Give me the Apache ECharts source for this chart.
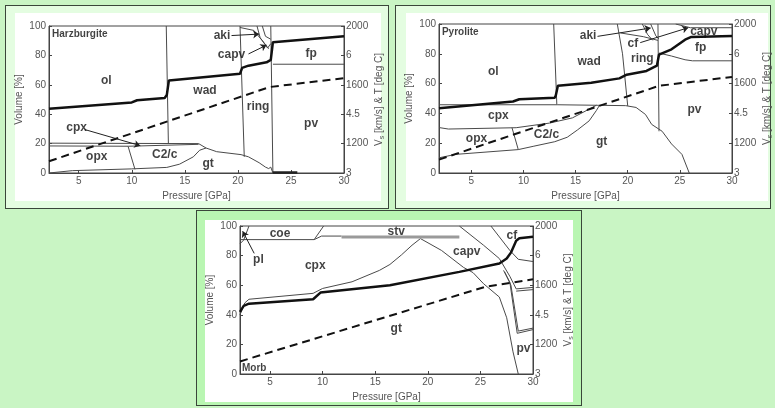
<!DOCTYPE html>
<html>
<head>
<meta charset="utf-8">
<script src="https://cdn.jsdelivr.net/npm/echarts@6/dist/echarts.min.js"></script>
<style>
  html, body { margin: 0; padding: 0; background: #c9f5c4; }
  .frame { position: absolute; border: 1.5px solid #3a463a; box-sizing: border-box; }
  .paper { position: absolute; background: #fff; }
  #main { position: absolute; left: 0; top: 0; width: 775px; height: 408px; }
</style>
</head>
<body>
<div class="frame" style="left:5px;top:5px;width:384px;height:204px;background:#e4fde1"></div>
<div class="paper" style="left:15px;top:13px;width:366px;height:188px"></div>
<div class="frame" style="left:395px;top:5px;width:376px;height:204px;background:#e4fde1"></div>
<div class="paper" style="left:406px;top:13px;width:362px;height:188px"></div>
<div class="frame" style="left:196px;top:210px;width:386px;height:196px;background:#b9f6b2"></div>
<div class="paper" style="left:205px;top:220px;width:368px;height:182px"></div>
<div id="main"></div>
<script>
// right axis: Vs [km/s] and T [deg C] share one scale
var rightTicks = ['3', '1200', '4.5', '1600', '6', '2000'];

// ---- Harzburgite ----
var harzVs = [[2.2,43.7],[10,48],[10.5,49.5],[13.1,51],[13.3,53],[13.5,63],[20.2,67.5],[20.4,71.5],[21,73],[22.7,75.3],[23.1,77],[23.3,89],[30,93]];
var harzT = [[2.2,8],[23,58.5],[30,64.5]];
var harzOlWad = [[13.25,100],[13.45,20]];
var harzWadRing = [[20.2,100],[20.6,11]];
var harzRingPv = [[23.1,100],[23.3,0]];
var harzFpPv = [[23.3,74],[30,74]];
var harzCpxTop = [[2.2,20.3],[16.3,20],[17,17],[18,14.5],[20.3,12.5],[21,11],[22,7],[22.6,4],[22.9,3],[23.1,4],[23.3,0]];
var harzCpxBot = [[2.2,18.4],[9.7,18.2],[16.3,19.5]];
var harzOpxC2c = [[9.65,18.2],[10.3,2.5]];
var harzGtTop = [[2.2,0],[4.4,1.6],[10,2.8],[13.3,3.8],[14.5,6],[15.8,11],[16.4,15.5],[17,17]];
var harzAki1 = [[20.2,99],[21.5,97],[22.3,90],[22.8,85],[23.1,88]];
var harzAki2 = [[21.8,100],[22.1,92],[22.9,84.5]];
var harzAki3 = [[22.3,100],[22.6,93],[23.1,91]];
var harzGtTail = [[23.3,0.4],[25.6,0.4]];
var harzArrows = [[[5.6,29.5],[10.8,18.6]], [[19.4,93.5],[22.0,94.5]], [[21.0,81],[22.7,87]]];
var harzLabels = [['ol',7.6,63],['wad',16.9,56.3],['ring',21.9,45],['pv',26.9,33.7],['fp',26.9,81.2],['opx',6.7,11],['C2/c',13.1,12.2],['gt',17.2,6.6],['cpx',4.8,30.5],['aki',18.5,93.5],['capv',19.4,80.2]];
var harzName = ['Harzburgite',5.1,94.5];

// ---- Pyrolite ----
var pyroVs = [[1.9,43.5],[9,48],[9.6,49.5],[13,50.5],[13.1,52],[13.3,58.5],[16.5,60.5],[19.2,63.5],[19.9,66],[21.8,68.5],[22.8,72],[23.0,79.5],[24.2,83],[25.5,89.5],[26.1,91.3],[30,92]];
var pyroT = [[1.9,9],[23,58.5],[30,64.5]];
var pyroOlWad = [[12.9,100],[13.2,46]];
var pyroWadRing = [[19.0,100],[19.5,80],[20.0,45]];
var pyroRingPv = [[22.9,100],[23.0,28]];
var pyroFpPv = [[23,80.5],[24.2,78.5],[25.5,76],[26.2,75.3],[30,75.3]];
var pyroCpxTop = [[1.9,45.8],[13.3,45.8],[19.8,45.2],[20.8,44],[21.7,39.3],[22.3,32.6],[23.3,28],[24.2,19.5],[25.2,12.5],[25.9,0]];
var pyroCpxBot = [[1.9,30.5],[2.8,29.5],[9.3,30.4],[12.5,33.5],[14.7,37],[16.2,42.5],[17,45.5]];
var pyroGtTop = [[1.9,10.2],[3.5,12.5],[9.5,15.7],[11,18],[13,21],[14.2,24],[15.2,29],[16.3,35],[17,42],[17.3,45.5]];
var pyroOpxC2c = [[8.9,30.4],[9.5,15.8]];
var pyroCapv = [[24.6,100],[26,97.5],[30,97.5]];
var pyroAki1 = [[21.4,100],[21.9,93],[22.4,89]];
var pyroAki2 = [[22.2,100],[22.7,92],[23,90]];
var pyroCf = [[19.3,94],[21.5,91.5],[22.9,89]];
var pyroArrows = [[[17.1,91.7],[22.2,97.3]], [[21.2,87.5],[25.8,97.5]]];
var pyroLabels = [['ol',7.1,68],['wad',16.3,75],['ring',21.4,76.5],['fp',27,84],['pv',26.4,42.5],['cpx',7.6,38.5],['opx',5.5,23],['C2/c',12.2,26],['gt',17.5,21],['aki',16.2,92],['cf',20.5,87],['capv',27.3,95]];
var pyroName = ['Pyrolite',3.94,94.2];

// ---- Morb ----
var morbVs = [[2.15,42],[2.5,46],[3,47.5],[9.1,50.5],[9.8,55],[16.4,60],[23,69],[26.8,74.7],[27.5,78],[27.9,82],[28.4,90],[28.7,91.7],[30,92.8]];
var morbT = [[2.15,8.5],[25.5,59],[30,64]];
var morbGtTop = [[2.15,40],[2.6,48],[3,50.5],[9.1,54.5],[10,57.8],[12.8,62.3],[15.4,70],[16.4,74],[17.5,80.5],[18.5,87],[19.3,91.5],[21.3,83.5],[23.4,72],[24.3,68.5],[25.3,61],[26.8,52],[27.5,38],[28.1,15],[28.6,0]];
var morbCapvTop = [[23,100],[25.3,87],[26.8,78],[27.8,66],[28.4,57.5],[30,58.5]];
var morbCapvLow = [[28.4,56],[30,57]];
var morbPv1 = [[27.2,70],[27.8,62],[28.5,27.5],[30,30]];
var morbPv2 = [[27.3,69],[27.9,60],[28.6,29],[30,31]];
var morbCf = [[26,100],[27.8,83.5],[28.6,77.5],[30,76]];
var morbCoeBot = [[2.15,90.8],[9.2,90.8],[9.9,93.2],[11.8,93.2]];
var morbCoeTop = [[9.2,90.8],[10.1,100]];
var morbPl = [[2.15,88],[2.5,90.5],[2.9,98],[3.0,100]];
var morbStv = [[11.8,92.6],[23,92.6]];
var morbArrows = [[[3.5,81.5],[2.4,96.5]]];
var morbLabels = [['coe',5.95,95],['stv',17,96],['cf',28,93.3],['pl',3.9,77],['cpx',9.3,73.5],['capv',23.7,82.5],['gt',17,30.3],['pv',29.1,17.3]];
var morbName = ['Morb',3.5,3.8];

var panels = [
  { grid: {left: 49, top: 26, width: 295, height: 147}, xmin: 2.2, vs: harzVs, t: harzT,
    thin: [harzOlWad, harzWadRing, harzRingPv, harzFpPv, harzCpxTop, harzCpxBot, harzOpxC2c, harzGtTop, harzAki1, harzAki2, harzAki3],
    thick: [harzGtTail], grey: [], arrows: harzArrows, labels: harzLabels, name: harzName },
  { grid: {left: 439, top: 24, width: 299, height: 149}, xmin: 1.9, vs: pyroVs, t: pyroT,
    thin: [pyroOlWad, pyroWadRing, pyroRingPv, pyroFpPv, pyroCpxTop, pyroCpxBot, pyroGtTop, pyroOpxC2c, pyroCapv, pyroAki1, pyroAki2, pyroCf],
    thick: [], grey: [], arrows: pyroArrows, labels: pyroLabels, name: pyroName },
  { grid: {left: 240, top: 226, width: 293, height: 148}, xmin: 2.15, vs: morbVs, t: morbT,
    thin: [morbGtTop, morbCapvTop, morbCapvLow, morbPv1, morbPv2, morbCf, morbCoeBot, morbCoeTop, morbPl],
    thick: [], grey: [morbStv], arrows: morbArrows, labels: morbLabels, name: morbName }
];

var axisFont = { fontFamily: 'Liberation Sans, Arial, sans-serif', fontSize: 10, color: '#555' };
var grids = [], xAxes = [], yAxes = [], series = [];

panels.forEach(function (p, i) {
  grids.push(Object.assign({ show: true, borderColor: '#444', borderWidth: 1, backgroundColor: '#fff' }, p.grid));
  xAxes.push({
    type: 'value', gridIndex: i, min: p.xmin, max: 30, splitNumber: 5,
    name: 'Pressure [GPa]', nameLocation: 'middle', nameGap: 18, nameTextStyle: axisFont,
    axisLine: { lineStyle: { color: '#444' } },
    axisTick: { inside: true, length: 3, lineStyle: { color: '#444' } },
    axisLabel: Object.assign({ margin: 3, showMinLabel: false }, axisFont),
    splitLine: { show: false }
  });
  yAxes.push({
    type: 'value', gridIndex: i, position: 'left', min: 0, max: 100, interval: 20,
    name: 'Volume [%]', nameLocation: 'middle', nameGap: 25, nameRotate: 90, nameTextStyle: axisFont,
    axisLine: { show: true, lineStyle: { color: '#444' } },
    axisTick: { show: true, inside: true, length: 3, lineStyle: { color: '#444' } },
    axisLabel: Object.assign({ margin: 3 }, axisFont),
    splitLine: { show: false }
  });
  yAxes.push({
    type: 'value', gridIndex: i, position: 'right', min: 0, max: 100, interval: 20,
    name: '{v|V}{s|s}{v| [km/s] & T [deg C]}', nameLocation: 'middle', nameGap: 29, nameRotate: 90,
    nameTextStyle: { rich: { v: axisFont, s: Object.assign({}, axisFont, { fontSize: 7, padding: [6, 0, 0, 0] }) } },
    axisLine: { show: true, lineStyle: { color: '#444' } },
    axisTick: { show: true, inside: true, length: 3, lineStyle: { color: '#444' } },
    axisLabel: Object.assign({ margin: 2, formatter: function (v) { return rightTicks[Math.round(v / 20)]; } }, axisFont),
    splitLine: { show: false }
  });

  var ax = { xAxisIndex: i, yAxisIndex: i * 2 };
  p.thin.forEach(function (d) {
    series.push(Object.assign({ type: 'line', data: d, showSymbol: false, lineStyle: { color: '#4a4a4a', width: 1 }, z: 2 }, ax));
  });
  p.thick.forEach(function (d) {
    series.push(Object.assign({ type: 'line', data: d, showSymbol: false, lineStyle: { color: '#222', width: 2.5 }, z: 2 }, ax));
  });
  p.grey.forEach(function (d) {
    series.push(Object.assign({ type: 'line', data: d, showSymbol: false, lineStyle: { color: '#9a9a9a', width: 3 }, z: 2 }, ax));
  });
  series.push(Object.assign({ type: 'line', data: p.t, showSymbol: false, lineStyle: { color: '#111', width: 2, type: [8, 5] }, z: 3 }, ax));
  series.push(Object.assign({ type: 'line', data: p.vs, showSymbol: false, lineStyle: { color: '#111', width: 2.5 }, z: 4 }, ax));
  series.push(Object.assign({
    type: 'lines', coordinateSystem: 'cartesian2d', z: 5,
    data: p.arrows.map(function (a) { return { coords: a }; }),
    symbol: ['none', 'arrow'], symbolSize: 6,
    lineStyle: { color: '#222', width: 1, opacity: 1 }
  }, ax));
  series.push(Object.assign({
    type: 'scatter', symbolSize: 1, itemStyle: { color: 'transparent' }, z: 6,
    data: p.labels.map(function (l) { return [l[1], l[2], l[0]]; }),
    label: { show: true, position: 'inside', formatter: function (q) { return q.value[2]; },
      fontFamily: 'Liberation Sans, Arial, sans-serif', fontWeight: 'bold', fontSize: 12, color: '#111' }
  }, ax));
  series.push(Object.assign({
    type: 'scatter', symbolSize: 1, itemStyle: { color: 'transparent' }, z: 6,
    data: [[p.name[1], p.name[2], p.name[0]]],
    label: { show: true, position: 'inside', formatter: function (q) { return q.value[2]; },
      fontFamily: 'Liberation Sans, Arial, sans-serif', fontWeight: 'bold', fontSize: 10, color: '#111' }
  }, ax));
});

var chart = echarts.init(document.getElementById('main'));
chart.setOption({
  animation: false,
  grid: grids,
  xAxis: xAxes,
  yAxis: yAxes,
  series: series
});
</script>
</body>
</html>
